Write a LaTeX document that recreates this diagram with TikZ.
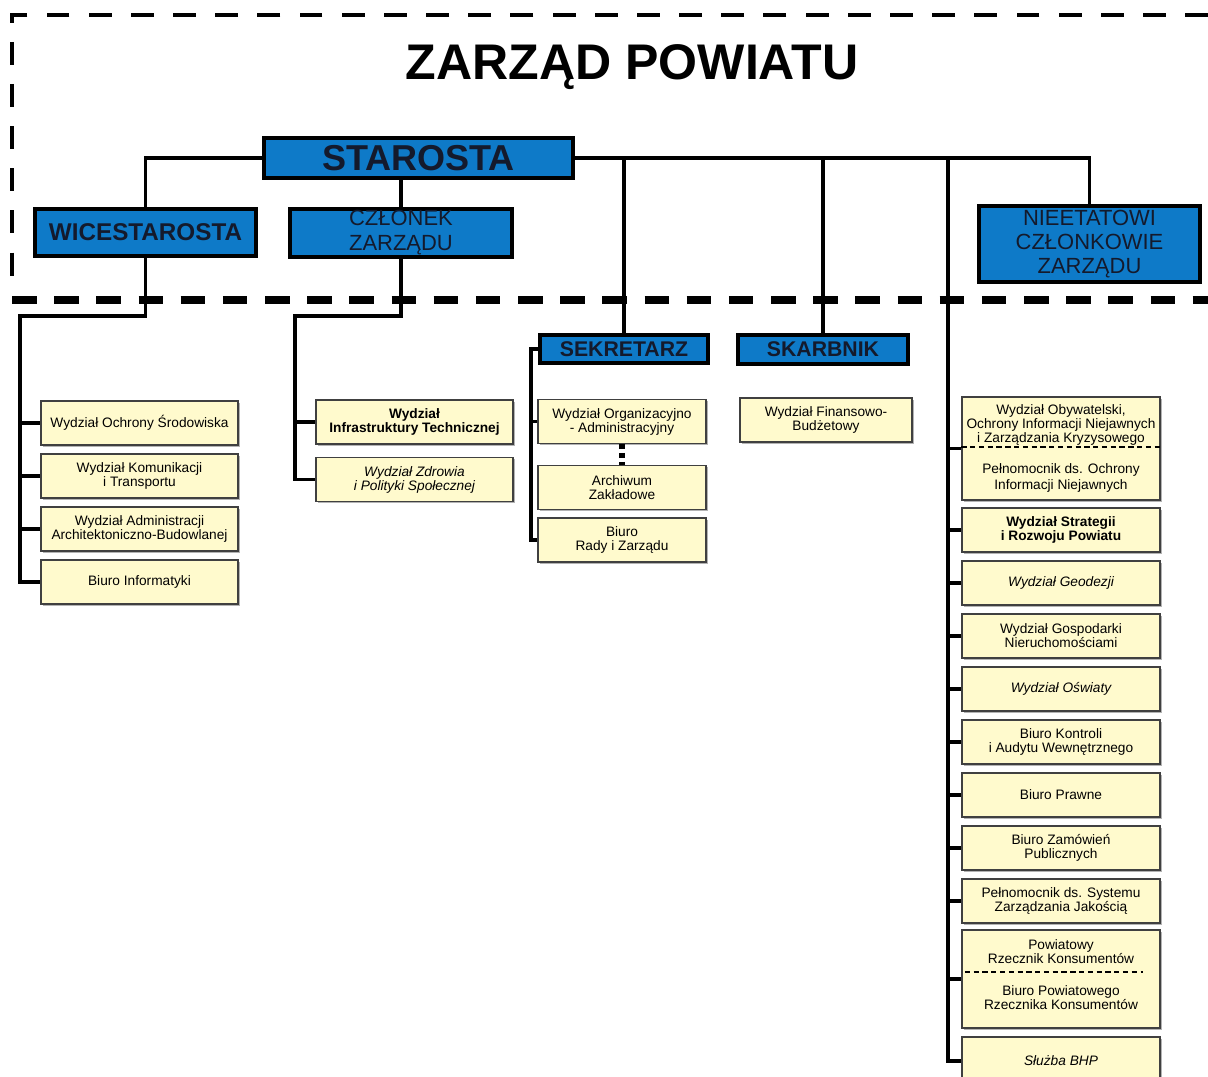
\documentclass[tikz,border=0pt]{standalone}
\usepackage{fontspec}
\setmainfont{Liberation Sans}
\usepackage[dvipsnames]{xcolor}
\usetikzlibrary{shadows}

\definecolor{niebieski}{RGB}{14,122,200}
\definecolor{zolty}{RGB}{255,250,205}
\definecolor{granat}{RGB}{20,26,44}

\begin{document}
\begin{tikzpicture}[x=0.02cm,y=-0.02cm,-,thick,node distance=1.06cm,
    line/.style={line width=2.2pt},
    ramka/.style={line width=2.8pt,dash pattern=on 13pt off 11pt},
    glowny/.style={rectangle,draw=black,line width=2.4pt,fill=niebieski,text=granat,align=center,inner sep=1pt,
        drop shadow={shadow xshift=1pt,shadow yshift=-1pt,opacity=0.5}},
    komorka/.style={rectangle,draw=black!75,line width=0.8pt,fill=zolty,align=center,inner sep=1pt,
        minimum width=3.94cm,minimum height=0.88cm,font=\fontsize{7.8}{8}\selectfont,
        drop shadow={shadow xshift=1.1pt,shadow yshift=-1.1pt,opacity=0.6}},
    gruby/.style={font=\fontsize{7.8}{8}\selectfont\bfseries},
    kursywa/.style={font=\fontsize{7.8}{8}\selectfont\itshape}]

                \useasboundingbox (0,0) rectangle (1208,1077);

                % ramka zarzadu
                \draw[ramka] (1208,15) -- (12,15) -- (12,290);
                \draw[ramka,line width=4pt,dash pattern=on 14pt off 10pt] (12,300) -- (1208,300);

                \node[font=\fontsize{28.5}{30}\selectfont\bfseries] (tytul) at (632,67) {ZARZĄD POWIATU};

                \node[glowny,minimum width=6.18cm,minimum height=0.8cm,font=\fontsize{20.5}{22}\selectfont\bfseries] (staro) at (418.5,158) {STAROSTA};
                \node[glowny,minimum width=4.42cm,minimum height=0.94cm,font=\fontsize{13.8}{15}\selectfont\bfseries] (wice) at (145.5,232.5) {WICESTAROSTA};
                \node[glowny,minimum width=4.44cm,minimum height=0.94cm,font=\fontsize{12.5}{14.2}\selectfont] (czl) at (401,233) {CZŁONEK\\ZARZĄDU};
                \node[glowny,minimum width=4.42cm,minimum height=1.52cm,font=\fontsize{12.5}{13.7}\selectfont] (niee) at (1089.5,244) {NIEETATOWI\\CZŁONKOWIE\\ZARZĄDU};
                \node[glowny,minimum width=3.36cm,minimum height=0.56cm,font=\fontsize{12.1}{13}\selectfont\bfseries] (sek) at (624,349) {SEKRETARZ};
                \node[glowny,minimum width=3.4cm,minimum height=0.58cm,font=\fontsize{12.1}{13}\selectfont\bfseries] (skarb) at (823,349.5) {SKARBNIK};

                % wicestarosta
                \node[komorka] (os) at (139.5,423) {Wydział Ochrony Środowiska};
                \node[komorka] (kom) [below of = os]{Wydział Komunikacji\\i Transportu};
                \node[komorka] (adm) [below of = kom]{Wydział Administracji\\Architektoniczno-Budowlanej};
                \node[komorka] (bi) [below of = adm]{Biuro Informatyki};

                % czlonek zarzadu
                \node[komorka,gruby] (inf) at (414.5,422){Wydział\\Infrastruktury Technicznej};
                \node[komorka,kursywa] (zdr) at (414.5,479.5){Wydział Zdrowia\\i Polityki Społecznej};

                % sekretarz
                \node[komorka,minimum width=3.36cm] (org) at (622,421.5){Wydział Organizacyjno\\- Administracyjny};
                \node[komorka,minimum width=3.36cm] (arch) at (622,487.5){Archiwum\\Zakładowe};
                \node[komorka,minimum width=3.36cm] (biu) at (622,540){Biuro\\Rady i Zarządu};

                % skarbnik
                \node[komorka,minimum width=3.44cm] (fin) at (826,420){Wydział Finansowo-\\Budżetowy};

                % starosta
                \node[komorka,minimum width=3.96cm,minimum height=2.06cm] (ob) at (1061,448.5)
                    {Wydział Obywatelski,\\Ochrony Informacji Niejawnych\\i Zarządzania Kryzysowego\\[9.5pt]Pełnomocnik ds. Ochrony\\[1.6pt]Informacji Niejawnych};
                \node[komorka,gruby,minimum width=3.96cm] (str) at (1061,530){Wydział Strategii\\i Rozwoju Powiatu};
                \node[komorka,kursywa,minimum width=3.96cm] (geo) [below of = str]{Wydział Geodezji};
                \node[komorka,minimum width=3.96cm] (gos) [below of = geo]{Wydział Gospodarki\\Nieruchomościami};
                \node[komorka,kursywa,minimum width=3.96cm] (osw) [below of = gos]{Wydział Oświaty};
                \node[komorka,minimum width=3.96cm] (kon) [below of = osw]{Biuro Kontroli\\i Audytu Wewnętrznego};
                \node[komorka,minimum width=3.96cm] (pra) [below of = kon]{Biuro Prawne};
                \node[komorka,minimum width=3.96cm] (zam) [below of = pra]{Biuro Zamówień\\Publicznych};
                \node[komorka,minimum width=3.96cm] (jak) [below of = zam]{Pełnomocnik ds. Systemu\\Zarządzania Jakością};
                \node[komorka,minimum width=3.96cm,minimum height=1.96cm] (rz) at (1061,979)
                    {Powiatowy\\Rzecznik Konsumentów\\[10.5pt]Biuro Powiatowego\\Rzecznika Konsumentów\\[-3pt]\mbox{}};
                \node[komorka,kursywa,minimum width=3.96cm,minimum height=0.96cm] (bhp) at (1061,1061){Służba BHP};

                \draw[densely dashed,line width=1pt] ([yshift=-1.02cm]ob.north west) -- ([yshift=-1.02cm]ob.north east);
                \draw[densely dashed,line width=1pt] ([xshift=2pt,yshift=-0.86cm]rz.north west) -- ([xshift=-10pt,yshift=-0.86cm]rz.north east);

                \coordinate (lw) at (20,316);
                \coordinate (lc) at (295,316);
                \coordinate (ls) at (531,349);
                \coordinate (pion) at (948,158);

                \draw[line] (staro.west) -| (wice.north);
                \draw[line] (czl.north |- staro.south) -- (czl.north);
                \draw[line] (staro.east) -| (niee.north);
                \draw[line] (sek.north |- staro.east) -- (sek.north);
                \draw[line] (skarb.north |- staro.east) -- (skarb.north);

                \draw[line] (wice.south) |- (lw) |- (bi.west);
                \draw[line] (lw |- os.west) -- (os.west);
                \draw[line] (lw |- kom.west) -- (kom.west);
                \draw[line] (lw |- adm.west) -- (adm.west);

                \draw[line] (czl.south) |- (lc) |- (zdr.west);
                \draw[line] (lc |- inf.west) -- (inf.west);

                \draw[line] (sek.west) -- (ls) |- (biu.west);
                \draw[line] (ls |- org.west) -- (org.west);
                \draw[line width=3pt,dash pattern=on 3pt off 2pt] (org.south) -- (arch.north);

                \draw[line] (pion) |- (bhp.west);
                \foreach \n in {ob,str,geo,gos,osw,kon,pra,zam,jak,rz}
                    \draw[line] (pion |- \n.west) -- (\n.west);

                ;
            \end{tikzpicture}
\end{document}
